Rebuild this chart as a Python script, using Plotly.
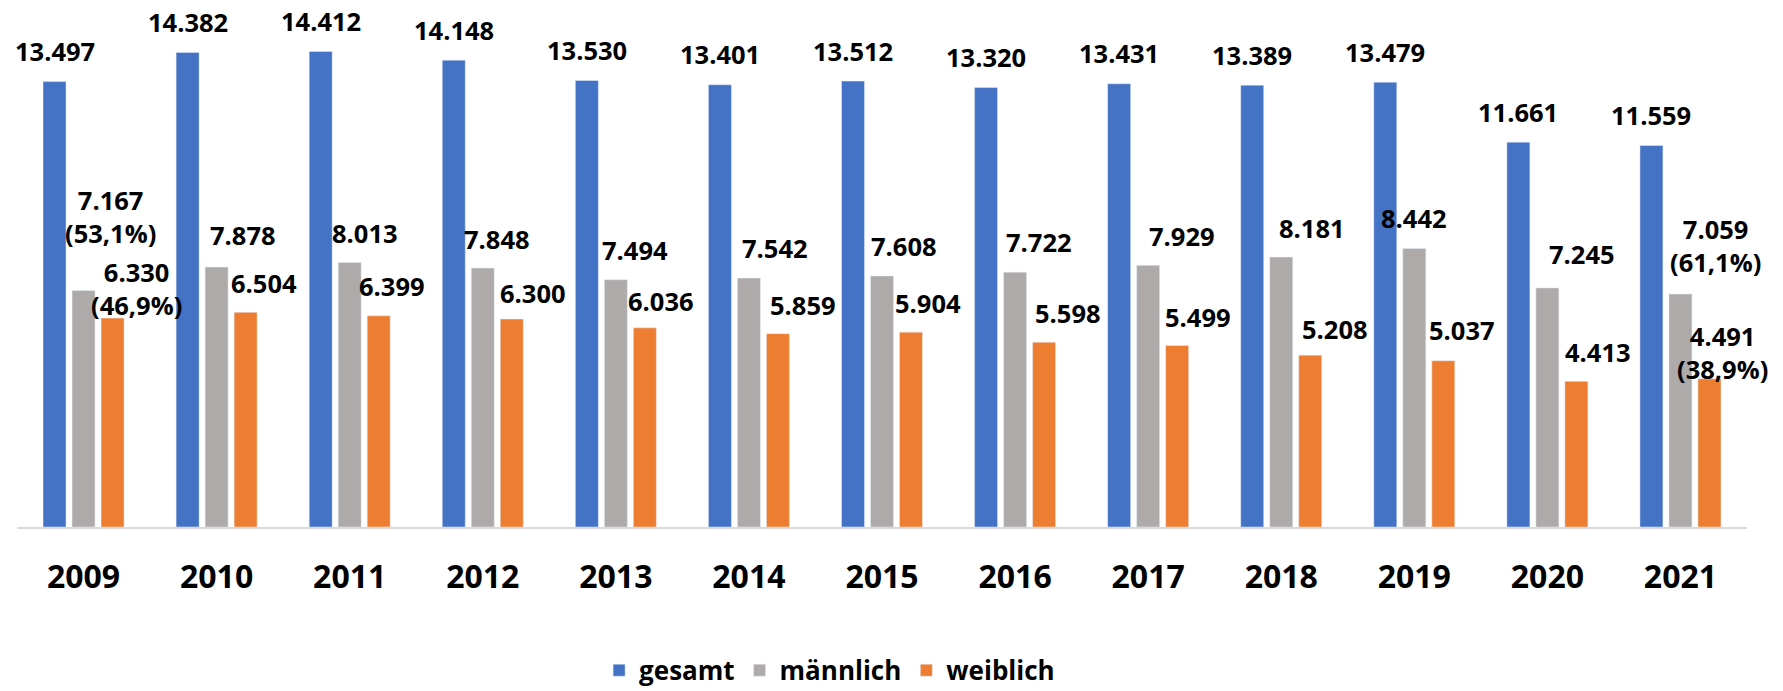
import plotly.graph_objects as go

years = ["2009", "2010", "2011", "2012", "2013", "2014", "2015",
         "2016", "2017", "2018", "2019", "2020", "2021"]
gesamt = [13497, 14382, 14412, 14148, 13530, 13401, 13512, 13320, 13431, 13389, 13479, 11661, 11559]
maennlich = [7167, 7878, 8013, 7848, 7494, 7542, 7608, 7722, 7929, 8181, 8442, 7245, 7059]
weiblich = [6330, 6504, 6399, 6300, 6036, 5859, 5904, 5598, 5499, 5208, 5037, 4413, 4491]

# extra share notes shown on first and last year
share_notes_m = {"2009": "(53,1%)", "2021": "(61,1%)"}
share_notes_w = {"2009": "(46,9%)", "2021": "(38,9%)"}

# label placement (pixels): horizontal shift relative to bar centre, gap above bar
gray_dx = [27, 26, 15.5, 14.5, 19, 26.5, 21.5, 23.5, 33.5, 30.5, 0, 35, 35]
gray_gap = [47, 22, 19, 19, 19, 20, 19, 20, 19, 19, 20, 23, 22]
orange_dx = [23.5, 18.5, 13.5, 21, 16, 25.5, 16.5, 23.5, 21, 24.5, 19, 21.5, 13]
orange_gap = [3, 19, 19, 16, 16, 18, 19, 19, 18, 16, 20, 19, -1]
blue_gap = 20

BLUE, GRAY, ORANGE = "#4472C4", "#AEAAAA", "#ED7D31"
FONT = "Open Sans"
LABEL_SIZE = 25.5
SLOT = 29  # pixel distance between bar centres in a group
PAD = 8.5  # text box bottom below glyph baseline


def fmt(v):
    return f"{v:,}".replace(",", ".")


fig = go.Figure()
fig.add_trace(go.Bar(name="gesamt", x=years, y=gesamt, marker_color=BLUE))
fig.add_trace(go.Bar(name="männlich", x=years, y=maennlich, marker_color=GRAY))
fig.add_trace(go.Bar(name="weiblich", x=years, y=weiblich, marker_color=ORANGE))

annotations = []
for i, yr in enumerate(years):
    annotations.append(dict(x=i, y=gesamt[i], text=fmt(gesamt[i]), xshift=-SLOT,
                            yshift=blue_gap - PAD))
    t = fmt(maennlich[i])
    if yr in share_notes_m:
        t += "<br>" + share_notes_m[yr]
    annotations.append(dict(x=i, y=maennlich[i], text=t, xshift=gray_dx[i],
                            yshift=gray_gap[i] - PAD))
    t = fmt(weiblich[i])
    if yr in share_notes_w:
        t += "<br>" + share_notes_w[yr]
    annotations.append(dict(x=i, y=weiblich[i], text=t, xshift=SLOT + orange_dx[i],
                            yshift=orange_gap[i] - PAD))

for a in annotations:
    a.update(xref="x", yref="y", showarrow=False, yanchor="bottom", xanchor="center",
             align="center",
             font=dict(family=FONT, size=LABEL_SIZE, color="black", weight="bold"))

fig.update_layout(
    width=1783, height=691,
    margin=dict(l=17, r=36, t=10, b=164, autoexpand=False),
    paper_bgcolor="white", plot_bgcolor="white",
    barmode="group", bargap=0.346, bargroupgap=0.207,
    annotations=annotations,
    showlegend=True,
    legend=dict(orientation="h", xref="container", yref="container",
                x=0.336, xanchor="left", y=0.03, yanchor="middle",
                font=dict(family=FONT, size=26, color="black", weight="bold"),
                traceorder="normal"),
    xaxis=dict(type="category", range=[-0.5, len(years) - 0.5], autorange=False,
               showgrid=False, showline=True, linecolor="#D9D9D9",
               linewidth=1.5, ticks="", ticklabelstandoff=21,
               tickfont=dict(family=FONT, size=32, color="black", weight="bold")),
    yaxis=dict(range=[0, 15667], visible=False, showgrid=False, zeroline=False),
)

fig.write_html("out.html", config={"displayModeBar": False},
               post_script="document.body.style.margin='0px';")
